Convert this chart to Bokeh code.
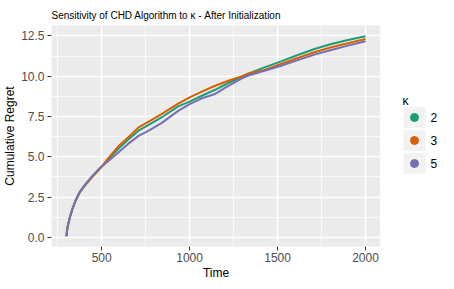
from bokeh.plotting import figure
from bokeh.layouts import row
from bokeh.models import (FixedTicker, PrintfTickFormatter, Range1d,
                          ColumnDataSource)
from bokeh.core.properties import value
from bokeh.embed import file_html
from bokeh.resources import INLINE

# ---- data ----
time = [300, 305, 320, 335, 350, 375, 410, 445, 490, 540, 595, 650, 710, 765,
        840, 935, 1000, 1070, 1145, 1220, 1295, 1330, 1425, 1520, 1615, 1710,
        1805, 1900, 2000]
regret_k2 = [0.08, 0.6, 1.28, 1.8, 2.24, 2.8, 3.32, 3.76, 4.28, 4.85, 5.5, 6.05,
             6.62, 6.97, 7.44, 8.13, 8.42, 8.79, 9.16, 9.58, 9.95, 10.15, 10.55,
             10.92, 11.32, 11.69, 12.0, 12.25, 12.48]
regret_k3 = [0.05, 0.55, 1.25, 1.78, 2.22, 2.78, 3.28, 3.72, 4.25, 4.95, 5.65, 6.2,
             6.82, 7.17, 7.65, 8.3, 8.69, 9.04, 9.41, 9.72, 9.99, 10.15, 10.39,
             10.76, 11.13, 11.49, 11.8, 12.05, 12.31]
regret_k5 = [0.08, 0.6, 1.28, 1.8, 2.24, 2.8, 3.32, 3.78, 4.3, 4.75, 5.27, 5.8,
             6.3, 6.61, 7.09, 7.85, 8.27, 8.63, 8.9, 9.4, 9.85, 10.03, 10.34,
             10.65, 11.0, 11.34, 11.63, 11.9, 12.17]
kappa_labels = ["2", "3", "5"]
colors = ["#1B9E77", "#D95F02", "#7570B3"]

x_ticks = [500, 1000, 1500, 2000]
x_minor = [250, 750, 1250, 1750]
y_ticks = [0, 2.5, 5, 7.5, 10, 12.5]
y_minor = [1.25, 3.75, 6.25, 8.75, 11.25]

FONT = "Liberation Sans"
TOP, BOTTOM, FH = 25, 36, 221
LEFT, FW = 50, 330
H = TOP + FH + BOTTOM

p = figure(width=LEFT + FW, height=H, output_backend="svg",
           toolbar_location=None, x_range=Range1d(215, 2085),
           y_range=Range1d(-0.57, 13.15),
           min_border_left=LEFT, min_border_top=TOP, min_border_bottom=BOTTOM,
           min_border_right=0)

p.background_fill_color = "#EBEBEB"
p.border_fill_color = "white"
p.outline_line_color = None

p.title.text = "Sensitivity of CHD Algorithm to \u03ba  - After Initialization"
p.title.text_font = FONT
p.title.text_font_size = "10px"
p.title.text_font_style = "normal"
p.title.text_color = "black"
p.title.align = "left"
p.title.offset = 0
p.title.standoff = 9

p.xaxis.ticker = FixedTicker(ticks=x_ticks, minor_ticks=x_minor)
p.yaxis.ticker = FixedTicker(ticks=y_ticks, minor_ticks=y_minor)
p.yaxis.formatter = PrintfTickFormatter(format="%.1f")

for ax in (p.xaxis, p.yaxis):
    ax.axis_line_color = None
    ax.major_tick_line_color = "#333333"
    ax.major_tick_line_width = 1
    ax.major_tick_out = 4
    ax.major_tick_in = 0
    ax.minor_tick_line_color = None
    ax.major_label_text_font = FONT
    ax.major_label_text_font_size = "12px"
    ax.major_label_text_color = "#4D4D4D"
    ax.axis_label_text_font = FONT
    ax.axis_label_text_font_size = "12px"
    ax.axis_label_text_font_style = "normal"
    ax.axis_label_text_color = "black"

p.xaxis.major_label_standoff = 2
p.xaxis.axis_label_standoff = 1
p.yaxis.major_label_standoff = 3
p.yaxis.axis_label_standoff = 1

p.xaxis.axis_label = "Time"
p.yaxis.axis_label = "Cumulative Regret"

for g in (p.xgrid, p.ygrid):
    g.grid_line_color = "white"
    g.grid_line_width = 1.4
    g.minor_grid_line_color = "white"
    g.minor_grid_line_width = 0.7

series = [regret_k2, regret_k3, regret_k5]
for col, ys in zip(colors, series):
    src = ColumnDataSource(dict(x=time, y=ys))
    p.line("x", "y", source=src, line_color=col, line_width=2)

# ---- legend panel: small figure whose frame is aligned with the main frame;
# its ranges are page-pixel positions (frame spans x 383..446, y 26..247) ----
lg = figure(width=63, height=H, output_backend="svg", toolbar_location=None,
            x_range=Range1d(383, 446), y_range=Range1d(247, 26),
            min_border_left=0, min_border_right=0, min_border_top=TOP,
            min_border_bottom=BOTTOM, x_axis_type=None, y_axis_type=None)
lg.grid.visible = False
lg.outline_line_color = None
lg.background_fill_color = "white"
lg.border_fill_color = "white"

n = len(kappa_labels)
key_y = [118 + 23 * i for i in range(n)]
lsrc = ColumnDataSource(dict(x=[417] * n, y=key_y, lx=[433] * n,
                             label=kappa_labels, color=colors))
lg.rect("x", "y", width=22, height=21, source=lsrc, fill_color="#F2F2F2",
        line_color=None)
lg.scatter("x", "y", source=lsrc, marker="circle", size=8,
           fill_color="color", line_color="color")
lg.text("lx", "y", text="label", source=lsrc, text_font=value(FONT),
        text_font_size="12px", text_baseline="middle", text_align="left",
        text_color="black")
lg.text(x=[405], y=[101], text=["\u03ba"], text_font=value(FONT),
        text_font_size="12px", text_baseline="middle", text_align="left",
        text_color="black")

layout = row(p, lg)
open("out.html", "w").write(file_html(layout, INLINE))
